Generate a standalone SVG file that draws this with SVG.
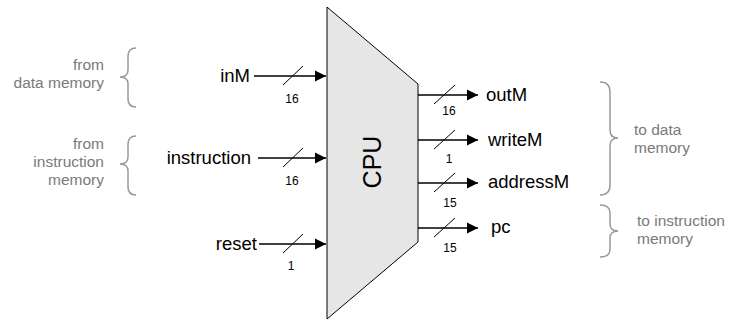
<svg xmlns="http://www.w3.org/2000/svg" width="730" height="320" viewBox="0 0 730 320">
<defs>
<marker id="ah" markerWidth="12" markerHeight="12" refX="11" refY="6" orient="auto" markerUnits="userSpaceOnUse">
<path d="M0,0.5 L11,6 L0,11.5 Z" fill="#000"/>
</marker>
<style>
.lbl{font-family:"Liberation Sans",Arial,sans-serif;font-size:18.5px;fill:#000}
.num{font-family:"Liberation Sans",Arial,sans-serif;font-size:12px;fill:#000;text-anchor:middle}
.note{font-family:"Liberation Sans",Arial,sans-serif;font-size:15.5px;fill:#7a7a7a}
.brace{fill:none;stroke:#9a9a9a;stroke-width:1.5}
.wire{stroke:#000;stroke-width:1.6;fill:none}
.slash{stroke:#000;stroke-width:1;fill:none}
</style>
</defs>
<rect width="730" height="320" fill="#fff"/>
<g id="cpu">
<polygon points="327,7 418,84 418,242 327,319" fill="#e6e6e6" stroke="#000" stroke-width="1"/>
<text transform="translate(381,162) rotate(-90)" text-anchor="middle" font-family="'Liberation Sans',Arial,sans-serif" font-size="25px">CPU</text>
</g>
<g id="connectors">
<line class="wire" x1="254" y1="76" x2="326" y2="76" marker-end="url(#ah)"/>
<line class="slash" x1="283" y1="85" x2="303" y2="66"/>
<line class="wire" x1="258" y1="158" x2="326" y2="158" marker-end="url(#ah)"/>
<line class="slash" x1="283" y1="167" x2="303" y2="148"/>
<line class="wire" x1="259" y1="244" x2="326" y2="244" marker-end="url(#ah)"/>
<line class="slash" x1="283" y1="253" x2="303" y2="234"/>
<line class="wire" x1="418" y1="95" x2="478" y2="95" marker-end="url(#ah)"/>
<line class="slash" x1="434" y1="104" x2="455" y2="85"/>
<line class="wire" x1="418" y1="140" x2="478" y2="140" marker-end="url(#ah)"/>
<line class="slash" x1="434" y1="149" x2="455" y2="130"/>
<line class="wire" x1="418" y1="183" x2="478" y2="183" marker-end="url(#ah)"/>
<line class="slash" x1="434" y1="192" x2="455" y2="173"/>
<line class="wire" x1="418" y1="228" x2="478" y2="228" marker-end="url(#ah)"/>
<line class="slash" x1="434" y1="237" x2="455" y2="218"/>
</g>
<g id="inM">
<text class="lbl" x="250" y="82" text-anchor="end">inM</text>
<text class="num" x="292" y="103">16</text>
</g>
<g id="instruction">
<text class="lbl" x="251" y="164" text-anchor="end">instruction</text>
<text class="num" x="292" y="185">16</text>
</g>
<g id="reset">
<text class="lbl" x="257" y="250" text-anchor="end">reset</text>
<text class="num" x="291" y="270">1</text>
</g>
<g id="outM">
<text class="lbl" x="486" y="101">outM</text>
<text class="num" x="449" y="115">16</text>
</g>
<g id="writeM">
<text class="lbl" x="488" y="146">writeM</text>
<text class="num" x="449" y="163">1</text>
</g>
<g id="addressM">
<text class="lbl" x="488" y="188">addressM</text>
<text class="num" x="450" y="207">15</text>
</g>
<g id="pc">
<text class="lbl" x="491" y="233">pc</text>
<text class="num" x="450" y="252">15</text>
</g>
<g id="from-data-memory">
<path class="brace" d="M136,48 Q128,48 128,56 L128,70 Q128,77 120,77 Q128,77 128,84 L128,99 Q128,107 136,107"/>
<text class="note" x="104" y="70" text-anchor="end">from</text>
<text class="note" x="104" y="88" text-anchor="end">data memory</text>
</g>
<g id="from-instruction-memory">
<path class="brace" d="M136,136 Q128,136 128,144 L128,157 Q128,164 120,164 Q128,164 128,171 L128,187 Q128,195 136,195"/>
<text class="note" x="104" y="149" text-anchor="end">from</text>
<text class="note" x="104" y="167" text-anchor="end">instruction</text>
<text class="note" x="104" y="185" text-anchor="end">memory</text>
</g>
<g id="to-data-memory">
<path class="brace" d="M600,82 Q610,82 610,92 L610,130 Q610,138 618,138 Q610,138 610,146 L610,185 Q610,195 600,195"/>
<text class="note" x="634" y="135">to data</text>
<text class="note" x="634" y="153">memory</text>
</g>
<g id="to-instruction-memory">
<path class="brace" d="M600,205 Q610,205 610,213 L610,224 Q610,231 618,231 Q610,231 610,238 L610,249 Q610,257 600,257"/>
<text class="note" x="637" y="226">to instruction</text>
<text class="note" x="637" y="244">memory</text>
</g>
</svg>
